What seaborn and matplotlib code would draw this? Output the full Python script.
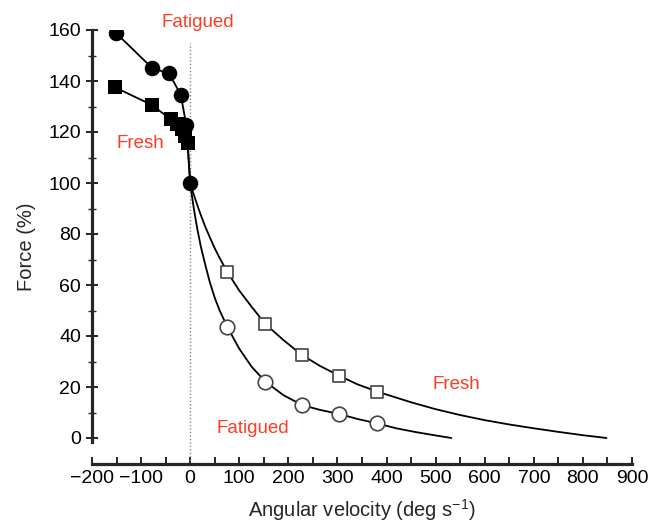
import matplotlib
matplotlib.use("Agg")
import matplotlib.pyplot as plt
import seaborn as sns
import pandas as pd

# ---- data ----
# eccentric (negative velocity), filled markers
fresh_ecc_v = [-153, -77, -40, -27, -17, -10, -5, 0]
fresh_ecc_f = [137.5, 130.5, 125.0, 123.0, 121.0, 118.5, 115.5, 100.0]
fat_ecc_v = [-152, -77, -43, -19, -8, 0]
fat_ecc_f = [159.0, 145.0, 143.0, 134.5, 122.7, 100.0]

# concentric measured points (open markers)
conc_v = [76, 153, 228, 304, 381]
fresh_conc_f = [65.0, 44.7, 32.5, 24.4, 18.2]
fat_conc_f = [43.4, 22.1, 12.9, 9.4, 5.7]

# fitted concentric curves
fresh_curve_v = [0, 5, 10, 20, 30, 40, 50, 60, 76, 100, 125, 153, 190, 228, 265, 304,
                 340, 381, 450, 500, 550, 600, 650, 700, 750, 800, 848]
fresh_curve_f = [100.0, 96.8, 93.9, 88.3, 83.2, 78.7, 74.4, 70.6, 65.0, 57.8, 51.5, 44.7,
                 38.4, 32.5, 28.2, 24.4, 21.1, 18.2, 14.0, 11.3, 9.0, 7.0, 5.3, 3.8,
                 2.4, 1.1, 0.0]
fat_curve_v = [0, 5, 10, 15, 22, 30, 40, 50, 60, 76, 100, 125, 153, 190, 228, 265, 304,
               340, 381, 420, 460, 500, 532]
fat_curve_f = [100.0, 93.0, 87.0, 81.5, 74.8, 68.5, 61.1, 55.0, 50.0, 43.4, 35.0, 28.0,
               22.1, 16.8, 12.9, 11.0, 9.4, 7.5, 5.7, 3.8, 2.3, 1.0, 0.0]

x_ticks = [-200, -100, 0, 100, 200, 300, 400, 500, 600, 700, 800, 900]
x_tick_labels = ["\u2212200", "\u2212100", "0", "100", "200", "300", "400", "500",
                 "600", "700", "800", "900"]
y_ticks = [0, 20, 40, 60, 80, 100, 120, 140, 160]

labels = ["Fatigued", "Fresh", "Fatigued", "Fresh"]
label_v = [15, -102, 128, 543]
label_f = [163, 115.5, 3.8, 20.8]

# ---- plotting ----
sns.set_theme(style="ticks")
plt.rcParams["font.family"] = ["Liberation Sans", "DejaVu Sans"]

fig = plt.figure(figsize=(6.51, 5.28), dpi=100)
ax = fig.add_axes([92 / 651, 1 - 463.5 / 528, (632 - 92) / 651, (463.5 - 30) / 528])

ax.set_xlim(-200, 900)
ax.set_ylim(-10, 160)

# dotted zero line
ax.plot([0, 0], [-10, 155], color="#888888", lw=1.0, ls=(0, (1, 1.5)), zorder=1)

curve_kw = dict(color="black", lw=1.3, sort=False, estimator=None, legend=False)
sns.lineplot(x=fresh_curve_v, y=fresh_curve_f, ax=ax, **curve_kw)
sns.lineplot(x=fat_curve_v, y=fat_curve_f, ax=ax, **curve_kw)
sns.lineplot(x=fresh_ecc_v, y=fresh_ecc_f, ax=ax, **curve_kw)
sns.lineplot(x=fat_ecc_v, y=fat_ecc_f, ax=ax, **curve_kw)

# open concentric markers
sns.scatterplot(x=conc_v, y=fresh_conc_f, ax=ax, marker="s", s=85, facecolor="white",
                edgecolor="#444444", linewidth=1.2, zorder=3, legend=False)
sns.scatterplot(x=conc_v, y=fat_conc_f, ax=ax, marker="o", s=110, facecolor="white",
                edgecolor="#444444", linewidth=1.2, zorder=3, legend=False)

# filled eccentric markers
sns.scatterplot(x=fresh_ecc_v[:-1], y=fresh_ecc_f[:-1], ax=ax, marker="s", s=90,
                color="black", edgecolor="black", linewidth=0, zorder=4, legend=False)
sns.scatterplot(x=fat_ecc_v, y=fat_ecc_f, ax=ax, marker="o", s=125, color="black",
                edgecolor="black", linewidth=0, zorder=5, legend=False)

for t, v, f in zip(labels, label_v, label_f):
    ax.text(v, f, t, color="#ff3b22", fontsize=13.5, ha="center", va="center",
            clip_on=False)

# axes styling
for side in ["top", "right"]:
    ax.spines[side].set_visible(False)
ax.spines["left"].set_linewidth(2.3)
ax.spines["bottom"].set_linewidth(2.3)
ax.spines["left"].set_bounds(-1.5, 160)

ax.set_xticks(x_ticks)
ax.set_xticklabels(x_tick_labels)
ax.set_xticks(range(-150, 900, 100), minor=True)
ax.set_yticks(y_ticks)
ax.set_yticks(range(10, 160, 20), minor=True)

ax.tick_params(axis="x", which="both", direction="in", length=5, width=1.2,
               labelsize=14, pad=5, colors="black")
ax.tick_params(axis="y", which="major", direction="inout", length=8, width=1.2,
               labelsize=14, pad=4, colors="black")
ax.tick_params(axis="y", which="minor", direction="inout", length=6, width=1.0)

ax.set_xlabel("Angular velocity (deg s$^{\\mathregular{\u22121}}$)", fontsize=14.5,
              labelpad=7)
ax.set_ylabel("Force (%)", fontsize=14.5, labelpad=9)

fig.savefig("out.png", dpi=100, facecolor="white")
